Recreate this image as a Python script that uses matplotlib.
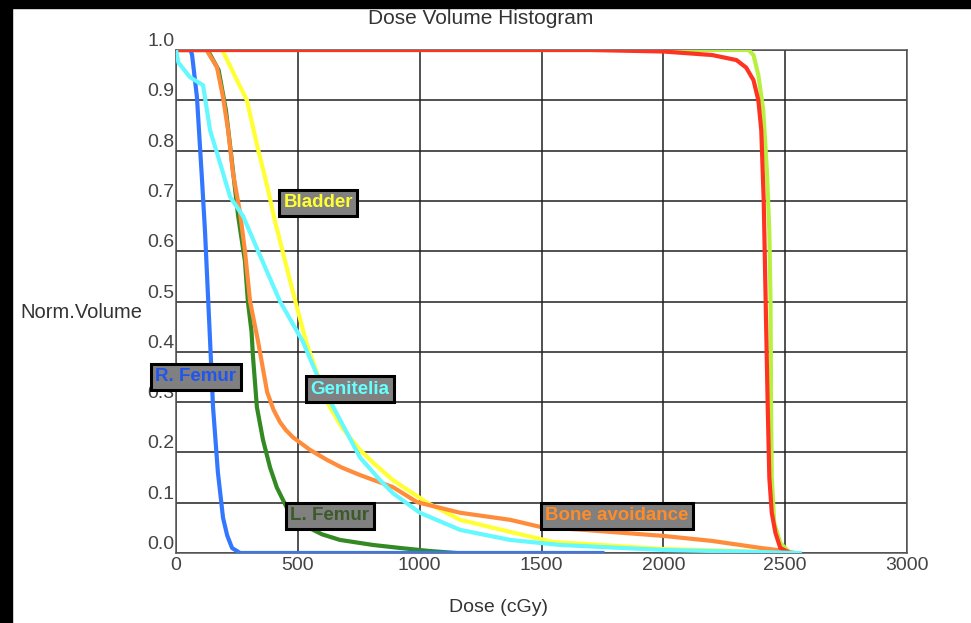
import matplotlib.pyplot as plt
from matplotlib.patches import Rectangle

# Dose (cGy) / normalised volume pairs
red_dose = [0, 1700, 2000, 2200, 2300, 2340, 2370, 2390, 2402, 2412, 2420, 2428, 2435, 2445, 2460, 2480, 2520]
red_vol = [1.0, 1.0, 0.997, 0.99, 0.98, 0.965, 0.94, 0.9, 0.84, 0.7, 0.5, 0.3, 0.15, 0.08, 0.04, 0.01, 0.0]

lime_dose = [0, 2350, 2370, 2390, 2410, 2425, 2435, 2440, 2442, 2445, 2455, 2480, 2520]
lime_vol = [1.0, 1.0, 0.99, 0.95, 0.88, 0.76, 0.64, 0.5, 0.3, 0.15, 0.06, 0.02, 0.0]

rfemur_dose = [0, 60, 66, 86, 107, 119, 140, 152, 172, 193, 210, 230, 263, 1750]
rfemur_vol = [1.0, 1.0, 0.99, 0.906, 0.74, 0.64, 0.42, 0.29, 0.16, 0.07, 0.035, 0.01, 0.0, 0.0]

genit_dose = [0, 10, 57, 111, 140, 181, 222, 275, 337, 427, 521, 591, 673, 755, 837, 890,
              1001, 1166, 1371, 1576, 2000, 2300, 2560]
genit_vol = [1.0, 0.975, 0.946, 0.93, 0.84, 0.775, 0.708, 0.67, 0.60, 0.5, 0.42, 0.34, 0.265,
             0.19, 0.145, 0.119, 0.08, 0.046, 0.026, 0.016, 0.006, 0.003, 0.0]

bladder_dose = [0, 190, 250, 291, 333, 374, 406, 448, 490, 534, 620, 680, 726, 755, 808, 890,
                1030, 1166, 1371, 1547, 2000, 2300, 2500]
bladder_vol = [1.0, 1.0, 0.94, 0.9, 0.81, 0.73, 0.66, 0.58, 0.5, 0.42, 0.3, 0.25, 0.222, 0.205,
               0.18, 0.145, 0.1, 0.066, 0.042, 0.022, 0.008, 0.004, 0.0]

bone_dose = [0, 125, 168, 193, 214, 234, 263, 283, 304, 337, 374, 400, 427, 450, 480, 550, 620,
             680, 755, 890, 990, 1166, 1371, 1494, 1700, 2000, 2200, 2400, 2500, 2540]
bone_vol = [1.0, 1.0, 0.966, 0.906, 0.84, 0.755, 0.676, 0.6, 0.5, 0.42, 0.32, 0.285, 0.26, 0.245,
            0.23, 0.205, 0.185, 0.17, 0.155, 0.131, 0.101, 0.08, 0.066, 0.052, 0.045, 0.034,
            0.024, 0.01, 0.004, 0.0]

lfemur_dose = [0, 130, 175, 205, 222, 255, 283, 295, 310, 316, 324, 332, 357, 386, 414, 455,
               500, 538, 600, 673, 808, 919, 1040, 1150]
lfemur_vol = [1.0, 1.0, 0.96, 0.88, 0.81, 0.67, 0.58, 0.5, 0.44, 0.39, 0.34, 0.29, 0.225,
              0.17, 0.13, 0.09, 0.068, 0.052, 0.037, 0.026, 0.016, 0.01, 0.004, 0.0]

x_ticks = [0, 500, 1000, 1500, 2000, 2500, 3000]
y_ticks = [0.0, 0.1, 0.2, 0.3, 0.4, 0.5, 0.6, 0.7, 0.8, 0.9, 1.0]

# label text, colour, position (dose, volume)
labels = [
    ("Bladder", "#ffff33", 583, 0.696),
    ("R. Femur", "#2255ee", 82, 0.35),
    ("Genitelia", "#66ffff", 714, 0.326),
    ("L. Femur", "#3d5a2a", 632, 0.074),
    ("Bone avoidance", "#ff8c2a", 1810, 0.074),
]

plt.rcParams['font.family'] = ['Liberation Sans', 'DejaVu Sans']

fig = plt.figure(figsize=(9.71, 6.23), dpi=100, facecolor='white')
# black strips at the top and left edge of the screenshot
fig.patches.append(Rectangle((0, 0), 12 / 971, 1, transform=fig.transFigure, color='black', zorder=-1))
fig.patches.append(Rectangle((0, 1 - 8 / 623), 1, 8 / 623, transform=fig.transFigure, color='black', zorder=-1))

ax = fig.add_axes([176 / 971, 70 / 623, 731 / 971, 503 / 623])

lw = 3
ax.plot(bladder_dose, bladder_vol, color='#ffff33', lw=lw, zorder=3)
ax.plot(lfemur_dose, lfemur_vol, color='#338a22', lw=lw, zorder=3)
ax.plot(bone_dose, bone_vol, color='#ff8c3a', lw=lw, zorder=4)
ax.plot(genit_dose, genit_vol, color='#66f8ff', lw=lw, zorder=5)
ax.plot(rfemur_dose, rfemur_vol, color='#3377ff', lw=lw, zorder=4)
ax.plot(lime_dose, lime_vol, color='#b8f040', lw=lw, zorder=3)
ax.plot(red_dose, red_vol, color='#ff3322', lw=lw, zorder=4)

ax.set_xlim(0, 3000)
ax.set_ylim(0, 1.0)
ax.set_xticks(x_ticks)
ax.set_yticks(y_ticks)
ax.set_xticklabels([str(t) for t in x_ticks])
ax.set_yticklabels([f'{t:.1f}' for t in y_ticks], va='bottom')
ax.tick_params(length=0, labelsize=14, labelcolor='#444444', pad=1)
ax.tick_params(axis='x', pad=3)
ax.grid(True, color='#222222', linewidth=1.1)
for s in ax.spines.values():
    s.set_color('#555555')
    s.set_linewidth(1.1)

for text, color, x, y in labels:
    ax.text(x, y, text, color=color, fontsize=13.5, fontweight='bold', ha='center', va='center', zorder=10,
            bbox=dict(boxstyle='square,pad=0.25', facecolor='#808080', edgecolor='black', linewidth=2.2))

fig.text(481 / 971, 1 - 18 / 623, 'Dose Volume Histogram', ha='center', va='center', fontsize=15, color='#333333')
fig.text(498 / 971, 1 - 607 / 623, 'Dose (cGy)', ha='center', va='center', fontsize=14, color='#333333')
fig.text(20 / 971, 1 - 312 / 623, 'Norm.Volume', ha='left', va='center', fontsize=14.5, color='#333333')

plt.savefig('out.png', dpi=100, facecolor=fig.get_facecolor())
